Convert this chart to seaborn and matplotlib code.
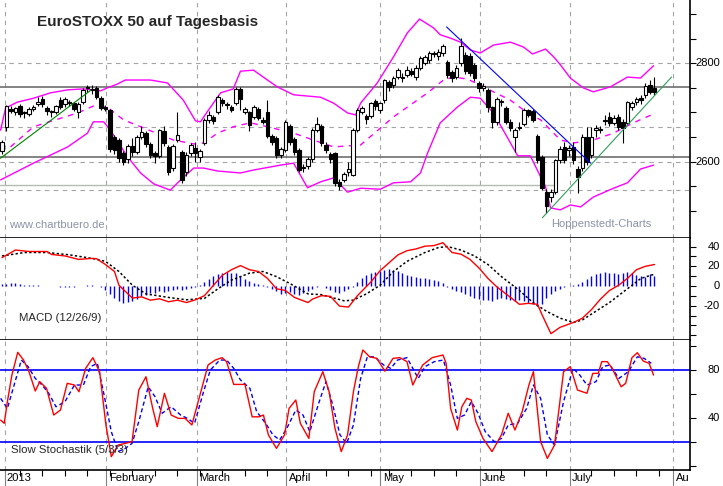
import numpy as np
import seaborn as sns
import matplotlib.pyplot as plt

sns.set_style("white")
plt.rcParams['font.family'] = ['Liberation Sans', 'DejaVu Sans']

# daily candles, trading day 0 = 31 Dec 2012 ... 145 = 26 Jul 2013
opens = [2622, 2670, 2708, 2700, 2713, 2700, 2697, 2707, 2718, 2727,
         2710, 2702, 2700, 2725, 2717, 2719, 2719, 2700, 2722, 2750,
         2748, 2750, 2730, 2711, 2705, 2650, 2644, 2618, 2605, 2632,
         2620, 2650, 2658, 2636, 2617, 2612, 2662, 2630, 2588, 2644,
         2620, 2580, 2618, 2628, 2610, 2638, 2685, 2690, 2700, 2725,
         2716, 2712, 2720, 2748, 2700, 2700, 2690, 2708, 2685, 2700,
         2652, 2648, 2614, 2624, 2672, 2646, 2624, 2590, 2592, 2605,
         2665, 2673, 2634, 2615, 2617, 2558, 2563, 2580, 2573, 2664,
         2700, 2692, 2692, 2723, 2705, 2725, 2762, 2756, 2772, 2772,
         2776, 2784, 2772, 2790, 2800, 2807, 2818, 2815, 2820, 2802,
         2782, 2772, 2800, 2817, 2815, 2797, 2760, 2750, 2746, 2711,
         2681, 2721, 2709, 2681, 2650, 2671, 2677, 2705, 2703, 2652,
         2610, 2539, 2529, 2539, 2603, 2630, 2624, 2630, 2585, 2587,
         2650, 2614, 2664, 2664, 2682, 2691, 2679, 2691, 2681, 2679,
         2711, 2721, 2729, 2736, 2756, 2750]
highs = [2645, 2716, 2714, 2712, 2718, 2704, 2712, 2716, 2731, 2733,
         2714, 2706, 2716, 2732, 2731, 2726, 2722, 2721, 2749, 2756,
         2755, 2754, 2733, 2716, 2708, 2654, 2648, 2622, 2636, 2648,
         2654, 2672, 2662, 2640, 2622, 2667, 2672, 2634, 2636, 2700,
         2624, 2620, 2638, 2640, 2626, 2688, 2702, 2694, 2736, 2730,
         2722, 2716, 2751, 2751, 2712, 2704, 2716, 2712, 2690, 2725,
         2656, 2652, 2630, 2684, 2676, 2650, 2628, 2596, 2610, 2668,
         2690, 2677, 2640, 2620, 2620, 2565, 2580, 2600, 2668, 2710,
         2714, 2696, 2722, 2727, 2722, 2769, 2766, 2774, 2790, 2780,
         2795, 2790, 2796, 2814, 2817, 2824, 2826, 2830, 2840, 2806,
         2786, 2796, 2852, 2822, 2820, 2800, 2764, 2760, 2750, 2714,
         2731, 2728, 2714, 2686, 2668, 2680, 2710, 2708, 2708, 2656,
         2614, 2545, 2545, 2606, 2632, 2640, 2634, 2640, 2592, 2656,
         2670, 2670, 2675, 2672, 2695, 2700, 2694, 2696, 2686, 2724,
         2724, 2732, 2736, 2760, 2766, 2772]
lows = [2615, 2662, 2698, 2695, 2690, 2688, 2692, 2703, 2714, 2712,
        2695, 2690, 2696, 2707, 2712, 2714, 2703, 2688, 2718, 2742,
        2738, 2728, 2706, 2702, 2620, 2616, 2600, 2594, 2598, 2612,
        2615, 2646, 2630, 2608, 2598, 2608, 2632, 2572, 2582, 2640,
        2556, 2570, 2612, 2600, 2600, 2634, 2678, 2676, 2696, 2714,
        2708, 2700, 2716, 2705, 2696, 2662, 2686, 2684, 2676, 2648,
        2634, 2608, 2608, 2620, 2634, 2614, 2578, 2580, 2586, 2600,
        2660, 2632, 2618, 2598, 2550, 2542, 2558, 2570, 2570, 2660,
        2696, 2676, 2688, 2705, 2698, 2720, 2744, 2750, 2768, 2762,
        2772, 2774, 2766, 2786, 2796, 2800, 2812, 2806, 2815, 2770,
        2762, 2768, 2795, 2778, 2774, 2764, 2742, 2744, 2700, 2668,
        2674, 2714, 2676, 2662, 2620, 2664, 2672, 2690, 2680, 2598,
        2542, 2496, 2518, 2534, 2598, 2598, 2612, 2596, 2536, 2582,
        2594, 2608, 2650, 2658, 2675, 2672, 2675, 2665, 2638, 2674,
        2706, 2716, 2718, 2730, 2738, 2736]
closes = [2640, 2713, 2703, 2709, 2697, 2698, 2708, 2712, 2722, 2717,
          2704, 2700, 2713, 2711, 2727, 2721, 2708, 2718, 2746, 2750,
          2745, 2732, 2710, 2707, 2626, 2624, 2607, 2599, 2632, 2620,
          2650, 2660, 2636, 2614, 2612, 2664, 2638, 2578, 2632, 2654,
          2563, 2614, 2634, 2618, 2622, 2685, 2695, 2683, 2732, 2720,
          2716, 2705, 2748, 2727, 2708, 2675, 2712, 2688, 2681, 2652,
          2640, 2614, 2626, 2681, 2640, 2620, 2583, 2588, 2605, 2664,
          2676, 2638, 2624, 2605, 2556, 2551, 2575, 2585, 2664, 2705,
          2710, 2686, 2719, 2713, 2719, 2766, 2752, 2770, 2786, 2770,
          2786, 2778, 2790, 2810, 2813, 2820, 2820, 2822, 2835, 2776,
          2770, 2790, 2835, 2784, 2780, 2770, 2750, 2754, 2711, 2681,
          2727, 2721, 2681, 2668, 2664, 2669, 2705, 2695, 2685, 2603,
          2547, 2509, 2539, 2603, 2626, 2603, 2628, 2603, 2569, 2650,
          2600, 2650, 2668, 2666, 2685, 2679, 2689, 2671, 2668, 2721,
          2719, 2727, 2725, 2754, 2742, 2742]

# Bollinger bands
bb_up_days = [-0.3, 0.8, 3.4, 7.0, 10.8, 14.6, 18.1, 21.9, 23.4, 25.7, 27.4, 33.0, 36.8,
              40.3, 43.0, 44.1, 45.9, 48.6, 51.4, 53.0, 55.9, 59.0, 61.2, 64.8, 70.8,
              73.7, 76.8, 78.6, 79.7, 83.4, 87.0, 90.1, 92.8, 95.9, 97.4, 99.7, 101.9,
              104.1, 106.3, 109.2, 113.0, 115.9, 117.9, 120.8, 122.6, 124.1, 126.3,
              129.2, 131.4, 135.2, 139.0, 141.9, 144.8]
bb_up = [2664, 2709, 2721, 2729, 2740, 2746, 2748, 2744, 2750, 2758, 2766, 2766, 2760,
         2725, 2683, 2681, 2705, 2740, 2748, 2784, 2786, 2766, 2752, 2736, 2731,
         2719, 2699, 2695, 2719, 2760, 2813, 2862, 2890, 2872, 2858, 2851, 2843,
         2827, 2821, 2837, 2843, 2833, 2819, 2829, 2813, 2797, 2770,
         2750, 2742, 2752, 2772, 2770, 2795]
bb_mid_days = [1.9, 7.0, 16.8, 20.3, 23.4, 27.0, 30.8, 38.1, 42.6, 44.8, 47.9, 51.4,
               55.2, 59.0, 64.8, 69.2, 73.7, 79.7, 87.0, 94.6, 98.1, 100.3, 103.4,
               106.3, 109.2, 113.0, 116.8, 119.7, 124.1, 127.0, 131.4, 135.9, 140.3, 144.3]
bb_mid = [2630, 2671, 2699, 2713, 2711, 2685, 2671, 2644, 2636, 2638, 2658, 2671,
          2679, 2671, 2658, 2644, 2630, 2634, 2691, 2740, 2766, 2772, 2768,
          2756, 2742, 2725, 2699, 2685, 2644, 2638, 2644, 2658, 2679, 2695]
bb_low_days = [-0.3, 7.0, 14.6, 19.0, 20.3, 22.6, 24.1, 27.9, 30.8, 33.7, 37.4, 39.7,
               42.6, 44.8, 47.9, 53.0, 55.9, 61.9, 64.8, 67.9, 70.8, 73.7, 76.8, 79.7,
               84.1, 87.0, 90.8, 93.0, 94.6, 97.4, 101.2, 104.1, 106.3, 109.2, 111.4,
               114.6, 117.4, 120.8, 121.9, 124.1, 126.3, 128.6, 131.4, 135.9, 139.0,
               141.9, 144.8]
bb_low = [2563, 2597, 2630, 2658, 2681, 2681, 2664, 2610, 2577, 2555, 2542, 2563,
          2587, 2587, 2581, 2577, 2583, 2593, 2597, 2547, 2559, 2567, 2538, 2546,
          2544, 2557, 2559, 2577, 2618, 2679, 2711, 2731, 2729, 2699, 2664,
          2612, 2612, 2549, 2506, 2502, 2512, 2508, 2528, 2546, 2557,
          2585, 2593]

# MACD (12/26/9)
macd_days = [0, 3, 6, 10, 11, 14, 17, 20, 21, 23, 25, 26, 28, 29, 31, 33, 35, 37, 39,
             41, 43, 45, 47, 49, 51, 53, 55, 57, 59, 61, 63, 65, 68, 69, 71, 73, 75,
             77, 79, 82, 84, 86, 88, 90, 92, 94, 96, 98, 100, 102, 104, 106, 108, 110,
             112, 115, 117, 119, 120, 122, 124, 127, 129, 131, 133, 135, 137, 139,
             141, 143, 145]
macd_vals = [28.8, 36.5, 35, 35, 32, 30.5, 27, 28, 27.7, 21.8, 14.7, 0.7, -8, -12.3,
             -11, -14.4, -13, -16, -14.4, -16.8, -14, -9.8, 0.7, 11, 16.5, 20.7, 16.5,
             14.7, 7.7, -2.8, -4.6, -11.6, -16.8, -13.3, -9.8, -10.5, -20.4, -21.4,
             -9.8, 4.2, 15.4, 23.5, 31.6, 35.8, 37.6, 40.4, 41, 43.9, 34, 32.3, 27,
             18.3, 7.7, -1, -8, -18.6, -17.6, -18.6, -29, -48.4, -42, -37, -32.6, -24,
             -13.3, -4.6, 0.7, 7.7, 16.5, 20, 21.8]
signal_days = [0, 5, 10, 15, 20, 23, 26, 29, 32, 37, 41, 45, 48, 51, 55, 58, 61, 64,
               68, 71, 76, 78, 81, 84, 87, 90, 94, 97, 99, 102, 105, 108, 111, 115,
               118, 121, 124, 127, 129, 132, 135, 138, 140, 142, 145]
signal_vals = [30.5, 34, 34, 31.6, 28, 25, 14.7, 0.7, -8, -11.6, -14, -12.6, -2.8, 6,
               13, 14.7, 9.5, 2.5, -8, -8.8, -15, -14.4, -8, 0.7, 14.7, 25, 34, 39,
               40, 36.5, 30.5, 21.8, 9.5, -4.6, -16.8, -25.6, -32.6, -37, -34.4,
               -25.6, -16.8, -6.3, 0.7, 7.7, 12]
hist_vals = [2, 2, 3, 3, 2, 1, 1, 1, 1, 0.5,
             0.5, -0.5, -0.5, -1, -1, -1, -1, -0.5, 0.5, 1,
             1, 0.5, -1, -4, -8, -12, -15, -17, -16, -15,
             -13, -10, -9, -7, -7, -5, -6, -5, -4, -3,
             -4, -3, -2, -1, 1, 4, 7, 10, 12, 13,
             14, 13, 13, 10, 7, 5, 3, 2, 1, -1,
             -3, -5, -8, -7, -6, -8, -9, -7, -5, -3,
             -1, 0.5, -2, -4, -6, -7, -5, -3, -1, 4,
             8, 11, 13, 14, 15, 16, 17, 16, 15, 13,
             11, 10, 9, 8, 8, 7, 6, 5, 3, -1,
             -3, -5, -6, -8, -10, -12, -13, -14, -14, -15,
             -13, -12, -13, -14, -15, -14, -15, -17, -18, -20,
             -18, -12, -8, -5, -3, -1, 0.5, 1, 2, 4,
             7, 10, 12, 13, 14, 13, 13, 12, 13, 14,
             13, 11, 10, 9, 12, 10]

# Slow Stochastik (5/3/3)
k_days = [-0.3, 0.5, 1.2, 2.2, 3.5, 4.8, 6.0, 7.4, 8.4, 9.9, 11.5, 13.0, 14.5, 16.1,
          17.1, 18.6, 20.2, 21.7, 23.1, 24.3, 25.8, 27.4, 28.9, 30.4, 32.0, 33.5,
          34.5, 36.1, 37.6, 39.2, 40.7, 42.2, 43.8, 45.8, 47.4, 48.9, 49.9, 51.5,
          54.0, 55.6, 57.1, 58.1, 59.2, 61.0, 62.8, 63.8, 65.3, 66.3, 68.2, 69.4,
          71.3, 72.7, 74.0, 75.4, 76.8, 78.1, 79.2, 80.2, 81.7, 83.3, 85.1, 86.9,
          88.4, 90.0, 91.3, 92.0, 93.5, 95.6, 98.0, 98.7, 99.7, 101.2, 102.2, 103.3,
          104.3, 105.3, 106.9, 108.9, 111.0, 112.5, 114.0, 115.6, 117.1, 118.1,
          119.7, 121.2, 122.8, 124.8, 126.3, 127.9, 130.0, 131.3, 132.5, 133.3,
          134.5, 135.6, 137.6, 138.6, 140.0, 141.2, 142.5, 143.8, 144.8]
k_vals = [38.3, 35.6, 53.6, 75.8, 94.7, 88.3, 78.6, 62.5, 70.3, 64.7, 42.5, 46.7, 68.9,
          67.5, 61.9, 81.4, 90.3, 78.6, 34.2, 7.8, 17.5, 18.9, 20.3, 63.3, 74.4, 48,
          32.8, 60.6, 42.5, 39.7, 39.7, 34.2, 56.4, 84.2, 88.3, 90.3, 87, 68, 68, 41,
          41, 42.5, 26, 14.7, 26, 48, 55, 35.6, 23, 62, 78.6, 62, 31.4, 12, 26, 62,
          82.8, 96.7, 91, 89.7, 79, 89.7, 90.3, 87, 67.5, 73, 84.2, 90.3, 92.5, 85.6,
          48, 30, 49.4, 56.4, 55, 37, 23, 12, 26, 44, 30, 45.3, 67.5, 78.6, 20.3, 6.4,
          17.5, 78.6, 82.8, 63.3, 60.6, 77.2, 77.2, 87, 87, 81.4, 66, 68.9, 90.3,
          94.4, 87.5, 85.6, 75.8]
d_days = [-0.3, 1.2, 2.7, 4.3, 5.8, 7.4, 8.9, 10.4, 12.0, 14.0, 16.1, 18.1, 19.7, 21.2,
          22.7, 24.3, 25.8, 27.4, 28.9, 30.4, 32.5, 34.0, 35.6, 37.6, 39.7, 41.2,
          42.8, 44.8, 46.3, 48.4, 49.9, 51.5, 53.0, 55.1, 56.6, 58.6, 60.2, 61.7,
          63.3, 65.3, 66.9, 68.4, 70.5, 72.0, 73.5, 75.1, 76.6, 78.1, 79.7, 81.2,
          82.8, 84.8, 86.4, 87.9, 90.0, 91.5, 92.5, 94.0, 96.1, 98.1, 99.7, 101.2,
          102.8, 104.3, 105.8, 107.4, 109.4, 111.0, 112.5, 114.6, 116.6, 118.1,
          119.7, 121.2, 122.8, 124.8, 126.9, 128.4, 130.0, 132.0, 133.5, 135.1,
          137.1, 139.2, 141.2, 142.7, 144.3]
d_vals = [56.4, 48, 67.5, 88.3, 82.8, 73, 67.5, 60.6, 49.4, 53.6, 67.5, 67.5, 82.8, 85.6,
          59, 28.6, 12, 14.7, 18.9, 37, 66, 57.8, 44, 49.4, 42.5, 39.7, 35.6, 62, 80,
          88.3, 88.3, 81.4, 71.7, 64.7, 45.3, 35.6, 26, 21.7, 31.4, 46.7, 42.5, 28.6,
          53.6, 70.3, 51, 26, 18.9, 34.2, 73, 91, 91, 84.2, 81.4, 88.3, 90.3, 80, 73,
          82.8, 87, 88.3, 67.5, 39.7, 42.5, 53.6, 44, 28.6, 20.3, 23, 34.2, 35.6, 48,
          67.5, 56.4, 26, 17.5, 53.6, 81.4, 75.8, 67.5, 70.3, 82.8, 84.2, 73, 78.6,
          91, 89.7, 85.6]

month_days = [0.6, 23.2, 43.3, 63.2, 84.1, 106.2, 126.2, 149.2]
month_labels = ['2013', 'February', 'March', 'April', 'May', 'June', 'July', 'Au']
week_days = [4, 9, 14, 19, 24, 29, 34, 39, 44, 49, 54, 59, 67, 72, 77, 82, 86, 91,
             96, 101, 111, 116, 121, 131, 136, 141, 146]

W, H = 723, 486
XMIN, XMAX = -0.44, 152.9
fig = plt.figure(figsize=(W / 100, H / 100), dpi=100)


def panel(top, bottom):
    return fig.add_axes([0, 1 - bottom / H, 690 / W, (bottom - top) / H])


ax_p = panel(0, 238)
ax_m = panel(238, 340)
ax_s = panel(340, 470)

grid_c = '#a4a4a4'
for ax in (ax_p, ax_m, ax_s):
    ax.set_xlim(XMIN, XMAX)
    ax.set_facecolor('white')
    for s in ('top', 'left'):
        ax.spines[s].set_visible(False)
    for s in ('right', 'bottom'):
        ax.spines[s].set_color('black')
        ax.spines[s].set_linewidth(1.2)
    for d in month_days:
        ax.axvline(d, color=grid_c, lw=0.8, ls=(0, (4, 4)), zorder=0)
    ax.tick_params(axis='y', which='both', left=False, right=True, labelleft=False,
                   labelright=False, direction='out', length=4, color='black', width=0.8)
    ax.tick_params(axis='x', which='both', bottom=False, labelbottom=False)


def right_label(ax, val, txt):
    ax.text(1 + 30 / 690, val, txt, transform=ax.get_yaxis_transform(), ha='right',
            va='center', fontsize=8, color='black', clip_on=False)


# ---------- price panel
ax_p.set_ylim(2444.8, 2928.7)
ax_p.set_yticks(range(2500, 2901, 50))
for yv in (2800, 2670, 2600, 2542):
    ax_p.axhline(yv, color=grid_c, lw=0.8, ls=(0, (4, 4)), zorder=0)
ax_p.axhline(2751, color='#6e6e6e', lw=1.2, zorder=1)
ax_p.axhline(2609.5, color='#6e6e6e', lw=1.2, zorder=1)
ax_p.plot([XMIN, 122.6], [2553, 2553], color='#b4bcb4', lw=1, zorder=1)

sns.lineplot(x=bb_up_days, y=bb_up, ax=ax_p, color='#ff00ff', linewidth=1, zorder=2)
sns.lineplot(x=bb_low_days, y=bb_low, ax=ax_p, color='#ff00ff', linewidth=1, zorder=2)
sns.lineplot(x=bb_mid_days, y=bb_mid, ax=ax_p, color='#ff00ff', linewidth=1,
             linestyle=(0, (4, 4)), zorder=2)

days = np.arange(len(closes))
o = np.array(opens)
c = np.array(closes)
body_lo = np.minimum(o, c)
body_h = np.maximum(np.abs(c - o), 1.5)
fill = np.where(c >= o, 'white', 'black')
ax_p.vlines(days, lows, highs, color='black', lw=0.8, zorder=3)
ax_p.bar(days, body_h, bottom=body_lo, width=0.72, color=fill, edgecolor='black',
         linewidth=0.8, zorder=4)

# trend lines
ax_p.plot([-0.33, 19.7], [2607, 2745], color='#008000', lw=0.8, zorder=5)
ax_p.plot([120.1, 148.8], [2486, 2772], color='#2e9e5a', lw=0.8, zorder=5)
ax_p.plot([98.8, 130.8], [2874, 2597], color='#0000ff', lw=0.8, zorder=5)

right_label(ax_p, 2800, '2800')
right_label(ax_p, 2600, '2600')

# ---------- MACD panel
ax_m.set_ylim(-54.8, 48.7)
ax_m.set_yticks(range(-50, 41, 10))
ax_m.vlines(days, 0, hist_vals, color='#0000ff', lw=1, zorder=2)
sns.lineplot(x=signal_days, y=signal_vals, ax=ax_m, color='black', linewidth=1.1,
             linestyle=(0, (1.5, 1.5)), zorder=3)
sns.lineplot(x=macd_days, y=macd_vals, ax=ax_m, color='#ff0000', linewidth=1, zorder=4)
for v in (40, 20, 0, -20):
    right_label(ax_m, v, str(v))

# ---------- Stochastic panel
ax_s.set_ylim(-3.3, 105)
ax_s.set_yticks(range(0, 101, 20))
ax_s.axhline(80, color='#0000ff', lw=1.2, zorder=1)
ax_s.axhline(20, color='#0000ff', lw=1.2, zorder=1)
sns.lineplot(x=d_days, y=d_vals, ax=ax_s, color='#0000ff', linewidth=1,
             linestyle=(0, (3, 2)), zorder=3)
sns.lineplot(x=k_days, y=k_vals, ax=ax_s, color='#ff0000', linewidth=1, zorder=4)
for v in (80, 40):
    right_label(ax_s, v, str(v))

ax_s.tick_params(axis='x', which='major', bottom=True, length=14, width=0.8,
                 color='#808080', direction='out')
ax_s.tick_params(axis='x', which='minor', bottom=True, length=4, width=0.8,
                 color='black', direction='out')
ax_s.set_xticks(month_days)
ax_s.set_xticks(week_days, minor=True)
for d, lab in zip(month_days, month_labels):
    ax_s.text(d + 0.5, -3 / 130, lab, transform=ax_s.get_xaxis_transform(),
              ha='left', va='top', fontsize=8, color='black')

for ax in (ax_p, ax_m, ax_s):
    ax.set_xlabel('')
    ax.set_ylabel('')
    leg = ax.get_legend()
    if leg:
        leg.remove()

# ---------- texts
fig.text(37 / W, 1 - 26 / H, 'EuroSTOXX 50 auf Tagesbasis', fontsize=11,
         fontweight='bold', va='baseline', ha='left')
fig.text(9 / W, 1 - 227.5 / H, 'www.chartbuero.de', fontsize=8, color='#8a94a6',
         va='baseline', ha='left')
fig.text(551 / W, 1 - 226.5 / H, 'Hoppenstedt-Charts', fontsize=8, color='#8a94a6',
         va='baseline', ha='left')
fig.text(19 / W, 1 - 318 / H, 'MACD (12/26/9)', fontsize=8.2, va='center', ha='left')
fig.text(11 / W, 1 - 450 / H, 'Slow Stochastik (5/3/3)', fontsize=8.2, va='center',
         ha='left')

fig.savefig('out.png', dpi=100, facecolor='white')
